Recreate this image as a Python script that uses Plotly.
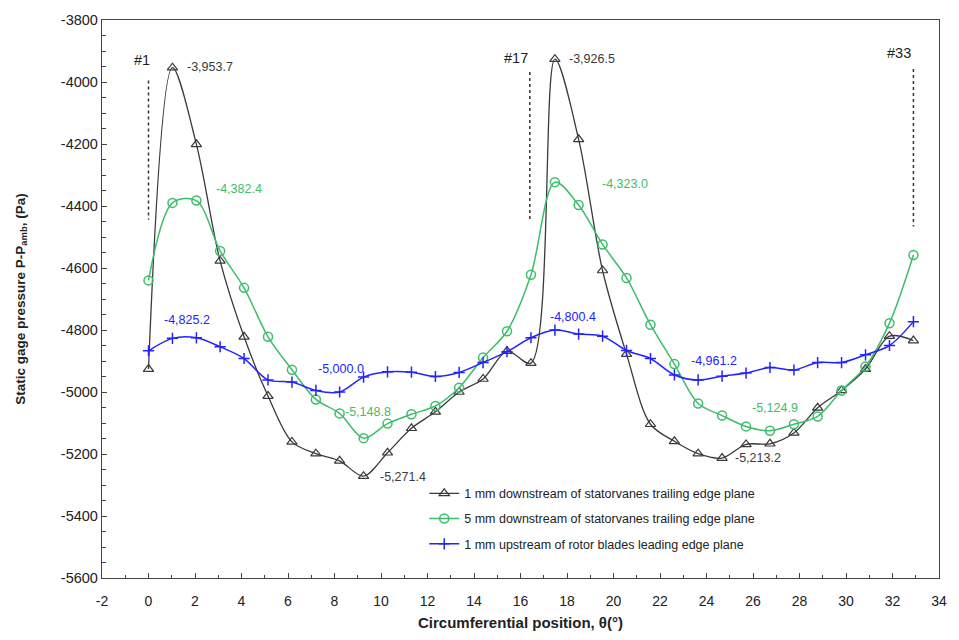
import plotly.graph_objects as go

theta = [0, 1.03, 2.06, 3.08, 4.11, 5.14, 6.17, 7.2, 8.22, 9.25, 10.28, 11.31, 12.34,
         13.36, 14.39, 15.42, 16.45, 17.48, 18.5, 19.53, 20.56, 21.59, 22.62, 23.64,
         24.67, 25.7, 26.73, 27.76, 28.78, 29.81, 30.84, 31.87, 32.9]

p_1mm_down = [-4926, -3953.7, -4201, -4577, -4822, -5013, -5161, -5199, -5222, -5271.4,
              -5196, -5117, -5064, -5000, -4958, -4868, -4907, -3926.5, -4185, -4608,
              -4878, -5104, -5159, -5199, -5213.2, -5169, -5167, -5132, -5051, -4995,
              -4926, -4820, -4834]

p_5mm_down = [-4640, -4390, -4382.4, -4545, -4664, -4822, -4928, -5024, -5069, -5148.8,
              -5102, -5072, -5045, -4986, -4889, -4804, -4622, -4323.0, -4397, -4524,
              -4632, -4783, -4910, -5037, -5076, -5111, -5124.9, -5104, -5079, -4995,
              -4918, -4778, -4558]

p_1mm_up = [-4867, -4827, -4825.2, -4854, -4892, -4961, -4968, -4995, -5000.0, -4952,
            -4935, -4936, -4950, -4937, -4905, -4870, -4825, -4800.4, -4813, -4820,
            -4866, -4892, -4945, -4961.2, -4949, -4939, -4921, -4929, -4905, -4905,
            -4880, -4850, -4773]

names = ["1 mm downstream of statorvanes trailing edge plane",
         "5 mm downstream of statorvanes trailing edge plane",
         "1 mm upstream of rotor blades leading edge plane"]

x_ticks = [-2, 0, 2, 4, 6, 8, 10, 12, 14, 16, 18, 20, 22, 24, 26, 28, 30, 32, 34]
x_tick_text = ["-2", "0", "2", "4", "6", "8", "10", "12", "14", "16", "18", "20", "22",
               "24", "26", "28", "30", "32", "34"]
y_ticks = [-5600, -5400, -5200, -5000, -4800, -4600, -4400, -4200, -4000, -3800]
y_tick_text = ["-5600", "-5400", "-5200", "-5000", "-4800", "-4600", "-4400", "-4200",
               "-4000", "-3800"]

BLACK = "#3a3a3a"
GREEN = "#3dbd6c"
BLUE = "#2323ff"

fig = go.Figure()
fig.add_trace(go.Scatter(
    x=theta, y=p_1mm_down, name=names[0], mode="lines+markers", legendgroup="a",
    line=dict(color=BLACK, width=1.3, shape="spline", smoothing=0.9),
    marker=dict(symbol="triangle-up-open", size=9, color=BLACK, line=dict(width=1.2))))
fig.add_trace(go.Scatter(
    x=theta, y=p_5mm_down, name=names[1], mode="lines+markers", legendgroup="b",
    line=dict(color=GREEN, width=1.5, shape="spline", smoothing=0.9),
    marker=dict(symbol="circle-open", size=9, color=GREEN, line=dict(width=1.5))))
fig.add_trace(go.Scatter(
    x=theta, y=p_1mm_up, name=names[2], mode="lines+markers", legendgroup="c",
    line=dict(color=BLUE, width=1.5, shape="spline", smoothing=0.9),
    marker=dict(symbol="cross-thin-open", size=8, color=BLUE, line=dict(width=1.5, color=BLUE))))

# blade reference dashed lines
blade_x = [0, 16.4, 32.9]
blade_top = [-3995, -3968, -3958]
blade_bot = [-4444, -4444, -4466]
blade_lbl = ["#1", "#17", "#33"]
for bx, bt, bb in zip(blade_x, blade_top, blade_bot):
    fig.add_shape(type="line", x0=bx, x1=bx, y0=bt, y1=bb,
                  line=dict(color="#333333", width=1.5, dash="dot"))
blade_lbl_x = [-0.3, 15.8, 32.3]
blade_lbl_y = [-3930, -3922, -3906]
for bx, by, t in zip(blade_lbl_x, blade_lbl_y, blade_lbl):
    fig.add_annotation(x=bx, y=by, text=t, showarrow=False, xanchor="center",
                       font=dict(family="Liberation Sans", size=14.5, color="#222222"))

# value labels
lbl_text = ["-3,953.7", "-4,382.4", "-3,926.5", "-4,323.0", "-4,825.2", "-5,000.0",
            "-5,148.8", "-5,271.4", "-4,800.4", "-4,961.2", "-5,124.9", "-5,213.2"]
lbl_x = [1.55, 2.8, 18.0, 19.4, 0.6, 7.2, 8.35, 9.85, 17.2, 23.25, 25.85, 25.15]
lbl_y = [-3952, -4346, -3927, -4330, -4769, -4927, -5066, -5275, -4758, -4900, -5050, -5214]
lbl_col = [BLACK, GREEN, BLACK, GREEN, BLUE, BLUE, GREEN, BLACK, BLUE, BLUE, GREEN, BLACK]
for t, x, y, c in zip(lbl_text, lbl_x, lbl_y, lbl_col):
    fig.add_annotation(x=x, y=y, text=t, showarrow=False, xanchor="left", yanchor="middle",
                       font=dict(family="Liberation Sans", size=12.5, color=c))

fig.update_layout(
    width=959, height=640,
    margin=dict(l=102, r=13, t=12, b=61),
    paper_bgcolor="white", plot_bgcolor="white",
    font=dict(family="Liberation Sans", color="#222222"),
    legend=dict(x=0.385, y=0.178, xanchor="left", yanchor="top",
                bgcolor="rgba(0,0,0,0)", traceorder="grouped", tracegroupgap=6,
                font=dict(family="Liberation Sans", size=12.5, color="#222222")),
    showlegend=True,
)
fig.update_xaxes(
    range=[-2, 34], tickmode="array", tickvals=x_ticks, ticktext=x_tick_text,
    showgrid=False, zeroline=False,
    showline=True, mirror=True, linecolor="#444444", linewidth=1.3,
    ticks="inside", ticklen=5, tickcolor="#444444", ticklabelstandoff=10,
    minor=dict(ticks="inside", dtick=1, tick0=0, ticklen=3, tickcolor="#444444"),
    tickfont=dict(family="Liberation Sans Narrow, Liberation Sans", size=14, color="#222222"),
    title=dict(text="<b>Circumferential position, θ(°)</b>", standoff=9,
               font=dict(family="Liberation Sans Narrow, Liberation Sans", size=15, color="#222222")),
)
fig.update_yaxes(
    range=[-5600, -3800], tickmode="array", tickvals=y_ticks, ticktext=y_tick_text,
    showgrid=False, zeroline=False,
    showline=True, mirror=True, linecolor="#444444", linewidth=1.3,
    ticks="inside", ticklen=5, tickcolor="#444444",
    minor=dict(ticks="inside", dtick=50, tick0=-5600, ticklen=4, tickcolor="#444444"),
    tickfont=dict(family="Liberation Sans", size=14.5, color="#222222"),
    title=dict(text="<b>Static gage pressure P-P<sub>amb</sub>, (Pa)</b>", standoff=32,
               font=dict(family="Liberation Sans", size=13.5, color="#222222")),
)

fig.write_html("out.html")
